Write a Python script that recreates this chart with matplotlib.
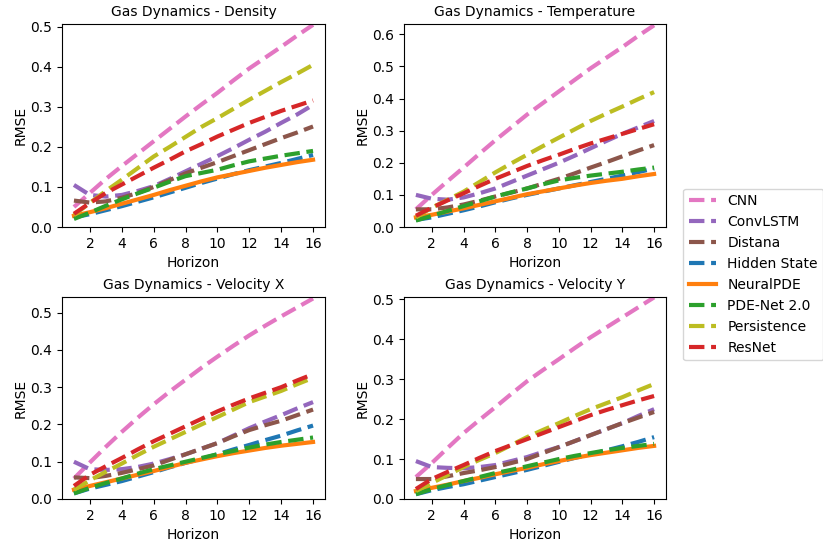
import matplotlib
matplotlib.use("Agg")
import matplotlib.pyplot as plt

horizon = list(range(1, 17))
models = ["CNN", "ConvLSTM", "Distana", "Hidden State", "NeuralPDE",
          "PDE-Net 2.0", "Persistence", "ResNet"]
colors = ["tab:pink", "tab:purple", "tab:brown", "tab:blue", "tab:orange",
          "tab:green", "tab:olive", "tab:red"]
titles = ["Gas Dynamics - Density", "Gas Dynamics - Temperature",
          "Gas Dynamics - Velocity X", "Gas Dynamics - Velocity Y"]

density = {
    "CNN":          [0.050,0.085,0.120,0.152,0.183,0.214,0.245,0.276,0.306,0.335,0.366,0.396,0.423,0.450,0.478,0.505],
    "ConvLSTM":     [0.105,0.080,0.076,0.080,0.090,0.102,0.120,0.139,0.158,0.177,0.197,0.218,0.238,0.260,0.281,0.305],
    "Distana":      [0.066,0.061,0.064,0.073,0.085,0.100,0.117,0.134,0.148,0.162,0.177,0.192,0.207,0.222,0.236,0.251],
    "Hidden State": [0.024,0.032,0.042,0.052,0.063,0.074,0.086,0.098,0.110,0.121,0.132,0.142,0.151,0.160,0.170,0.180],
    "NeuralPDE":    [0.028,0.037,0.047,0.058,0.069,0.080,0.092,0.103,0.114,0.124,0.132,0.140,0.148,0.155,0.162,0.168],
    "PDE-Net 2.0":  [0.020,0.036,0.053,0.069,0.084,0.098,0.113,0.127,0.135,0.143,0.154,0.164,0.171,0.178,0.184,0.190],
    "Persistence":  [0.030,0.060,0.090,0.118,0.147,0.176,0.200,0.225,0.250,0.272,0.295,0.318,0.340,0.362,0.383,0.405],
    "ResNet":       [0.033,0.060,0.085,0.106,0.127,0.148,0.168,0.189,0.207,0.226,0.243,0.260,0.275,0.290,0.303,0.316],
}
temperature = {
    "CNN":          [0.055,0.100,0.143,0.185,0.228,0.270,0.310,0.350,0.386,0.422,0.458,0.494,0.527,0.560,0.595,0.628],
    "ConvLSTM":     [0.100,0.088,0.085,0.092,0.105,0.120,0.140,0.160,0.180,0.200,0.222,0.245,0.268,0.290,0.310,0.330],
    "Distana":      [0.055,0.055,0.061,0.070,0.082,0.095,0.107,0.120,0.135,0.150,0.167,0.185,0.202,0.220,0.238,0.255],
    "Hidden State": [0.022,0.030,0.041,0.052,0.064,0.077,0.089,0.100,0.110,0.120,0.130,0.140,0.150,0.160,0.171,0.182],
    "NeuralPDE":    [0.030,0.038,0.048,0.058,0.069,0.080,0.091,0.102,0.111,0.120,0.129,0.137,0.144,0.150,0.158,0.165],
    "PDE-Net 2.0":  [0.020,0.035,0.050,0.065,0.080,0.095,0.108,0.120,0.133,0.145,0.153,0.160,0.166,0.172,0.179,0.185],
    "Persistence":  [0.030,0.060,0.085,0.110,0.140,0.170,0.198,0.225,0.252,0.278,0.304,0.330,0.353,0.375,0.398,0.420],
    "ResNet":       [0.035,0.060,0.083,0.105,0.128,0.150,0.170,0.190,0.208,0.225,0.243,0.260,0.275,0.290,0.305,0.320],
}
velocity_x = {
    "CNN":          [0.055,0.098,0.140,0.180,0.218,0.254,0.288,0.320,0.352,0.382,0.411,0.439,0.465,0.490,0.514,0.538],
    "ConvLSTM":     [0.100,0.080,0.078,0.080,0.086,0.095,0.107,0.120,0.135,0.150,0.170,0.190,0.208,0.225,0.243,0.260],
    "Distana":      [0.058,0.056,0.062,0.070,0.080,0.090,0.105,0.120,0.135,0.150,0.168,0.185,0.198,0.210,0.225,0.240],
    "Hidden State": [0.015,0.028,0.038,0.048,0.060,0.072,0.085,0.097,0.108,0.120,0.133,0.145,0.158,0.170,0.184,0.197],
    "NeuralPDE":    [0.025,0.035,0.045,0.055,0.065,0.075,0.086,0.097,0.106,0.115,0.123,0.130,0.137,0.143,0.148,0.153],
    "PDE-Net 2.0":  [0.015,0.030,0.043,0.055,0.068,0.080,0.090,0.100,0.110,0.120,0.129,0.138,0.146,0.153,0.159,0.165],
    "Persistence":  [0.025,0.050,0.073,0.095,0.118,0.140,0.160,0.180,0.200,0.220,0.240,0.260,0.275,0.290,0.308,0.325],
    "ResNet":       [0.035,0.065,0.088,0.110,0.133,0.155,0.175,0.195,0.215,0.235,0.253,0.270,0.285,0.300,0.318,0.335],
}
velocity_y = {
    "CNN":          [0.055,0.090,0.128,0.165,0.198,0.230,0.263,0.295,0.323,0.350,0.378,0.405,0.430,0.455,0.480,0.505],
    "ConvLSTM":     [0.095,0.080,0.078,0.077,0.080,0.085,0.095,0.105,0.118,0.130,0.145,0.160,0.175,0.190,0.208,0.225],
    "Distana":      [0.050,0.050,0.057,0.065,0.072,0.080,0.090,0.100,0.115,0.130,0.145,0.160,0.175,0.190,0.204,0.218],
    "Hidden State": [0.012,0.022,0.030,0.037,0.046,0.055,0.064,0.073,0.083,0.093,0.103,0.112,0.122,0.132,0.143,0.155],
    "NeuralPDE":    [0.020,0.028,0.036,0.045,0.053,0.062,0.070,0.078,0.087,0.095,0.103,0.110,0.116,0.122,0.128,0.133],
    "PDE-Net 2.0":  [0.012,0.025,0.035,0.045,0.055,0.065,0.073,0.082,0.091,0.100,0.108,0.115,0.122,0.128,0.133,0.138],
    "Persistence":  [0.020,0.040,0.060,0.080,0.098,0.115,0.135,0.155,0.173,0.190,0.208,0.225,0.240,0.255,0.272,0.288],
    "ResNet":       [0.025,0.050,0.068,0.085,0.103,0.120,0.135,0.150,0.165,0.180,0.195,0.210,0.223,0.235,0.247,0.258],
}
panels = [density, temperature, velocity_x, velocity_y]
y_tops = [0.507, 0.632, 0.542, 0.506]

W, H = 823, 545
fig = plt.figure(figsize=(W / 100, H / 100), dpi=100)
rects = [
    (62, 24, 325, 227), (404, 24, 666, 227),
    (62, 297, 325, 499), (404, 297, 666, 499),
]
handles = []
for i, (data, title, top) in enumerate(zip(panels, titles, y_tops)):
    x0, y0, x1, y1 = rects[i]
    ax = fig.add_axes([x0 / W, 1 - y1 / H, (x1 - x0) / W, (y1 - y0) / H])
    hs = []
    for m, c in zip(models, colors):
        ls = "-" if m == "NeuralPDE" else "--"
        h, = ax.plot(horizon, data[m], ls, color=c, lw=3, label=m)
        hs.append(h)
    if i == 0:
        handles = hs
    ax.set_ylim(0, top)
    ax.set_xticks([2, 4, 6, 8, 10, 12, 14, 16])
    ax.set_title(title, fontsize=10)
    ax.set_xlabel("Horizon", fontsize=10)
    ax.set_ylabel("RMSE", fontsize=10, labelpad=2)

fig.legend(handles, models, loc="center left",
           bbox_to_anchor=(676 / W, 1 - 274.5 / H), fontsize=10)
fig.savefig("out.png", dpi=100)
